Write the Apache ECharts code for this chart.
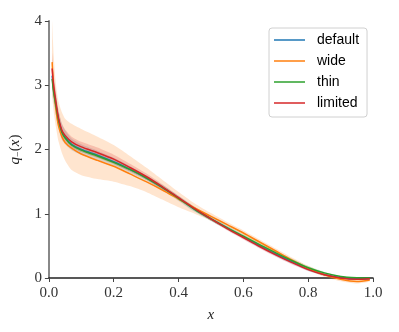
<!DOCTYPE html>
<html>
<head>
<meta charset="utf-8">
<script src="https://cdn.jsdelivr.net/npm/echarts@6/dist/echarts.min.js"></script>
<style>
  html, body { margin: 0; padding: 0; background: #fff; }
  #chart { width: 399px; height: 332px; }
</style>
</head>
<body>
<div id="chart"></div>
<script>
// x grid shared by every curve
var xs = [0.01, 0.0125, 0.015, 0.02, 0.025, 0.03, 0.04, 0.05, 0.07, 0.1, 0.15, 0.2, 0.25, 0.3, 0.35, 0.4, 0.45, 0.5, 0.55, 0.6, 0.65, 0.7, 0.75, 0.8, 0.85, 0.9, 0.95, 0.99];

// central curves
var defaultMid = [3.15, 3.02, 2.92, 2.76, 2.6, 2.46, 2.28, 2.19, 2.08, 2.0, 1.91, 1.81, 1.69, 1.56, 1.41, 1.24, 1.07, 0.92, 0.78, 0.64, 0.5, 0.37, 0.25, 0.14, 0.055, 0.005, -0.015, -0.01];
var wideMid = [3.36, 3.1, 2.92, 2.7, 2.5, 2.36, 2.2, 2.11, 2.02, 1.93, 1.83, 1.74, 1.62, 1.5, 1.37, 1.23, 1.09, 0.96, 0.83, 0.7, 0.56, 0.42, 0.28, 0.15, 0.05, -0.02, -0.055, -0.03];
var thinMid = [3.1, 2.98, 2.88, 2.73, 2.58, 2.45, 2.27, 2.18, 2.07, 1.99, 1.9, 1.8, 1.69, 1.56, 1.41, 1.24, 1.07, 0.92, 0.78, 0.65, 0.52, 0.39, 0.27, 0.16, 0.08, 0.025, 0.005, 0.0];
var limitedMid = [3.26, 3.1, 2.98, 2.8, 2.62, 2.48, 2.3, 2.22, 2.12, 2.04, 1.95, 1.85, 1.72, 1.58, 1.42, 1.25, 1.08, 0.92, 0.77, 0.63, 0.49, 0.36, 0.24, 0.13, 0.05, 0.0, -0.02, -0.01];

// uncertainty bands
var defaultLo = [2.9, 2.79, 2.72, 2.59, 2.44, 2.32, 2.15, 2.08, 1.99, 1.92, 1.84, 1.75, 1.64, 1.52, 1.37, 1.2, 1.03, 0.89, 0.75, 0.61, 0.47, 0.34, 0.22, 0.11, 0.035, -0.01, -0.025, -0.02];
var defaultHi = [3.4, 3.25, 3.12, 2.93, 2.76, 2.6, 2.41, 2.3, 2.17, 2.08, 1.98, 1.87, 1.74, 1.6, 1.45, 1.28, 1.11, 0.95, 0.81, 0.67, 0.53, 0.4, 0.28, 0.17, 0.075, 0.02, -0.005, 0.0];
var wideLo = [2.85, 2.7, 2.58, 2.4, 2.25, 2.12, 1.95, 1.83, 1.68, 1.6, 1.54, 1.5, 1.43, 1.34, 1.22, 1.1, 1.0, 0.89, 0.77, 0.65, 0.52, 0.38, 0.25, 0.12, 0.02, -0.05, -0.085, -0.055];
var wideHi = [4.0, 3.7, 3.45, 3.1, 2.88, 2.74, 2.58, 2.48, 2.4, 2.32, 2.2, 2.07, 1.9, 1.72, 1.53, 1.34, 1.16, 1.01, 0.87, 0.74, 0.6, 0.46, 0.32, 0.19, 0.08, 0.01, -0.03, -0.01];
var thinLo = [3.0, 2.92, 2.83, 2.68, 2.54, 2.41, 2.24, 2.15, 2.04, 1.96, 1.87, 1.77, 1.66, 1.53, 1.38, 1.21, 1.04, 0.89, 0.75, 0.62, 0.49, 0.36, 0.24, 0.135, 0.065, 0.015, 0.0, -0.005];
var thinHi = [3.2, 3.04, 2.93, 2.78, 2.62, 2.49, 2.3, 2.21, 2.1, 2.02, 1.93, 1.83, 1.72, 1.59, 1.44, 1.27, 1.1, 0.95, 0.81, 0.68, 0.55, 0.42, 0.3, 0.185, 0.095, 0.035, 0.01, 0.005];
var limitedLo = [3.02, 2.9, 2.81, 2.65, 2.49, 2.36, 2.2, 2.13, 2.04, 1.96, 1.87, 1.78, 1.66, 1.53, 1.38, 1.22, 1.05, 0.89, 0.74, 0.6, 0.46, 0.33, 0.21, 0.11, 0.035, -0.01, -0.03, -0.02];
var limitedHi = [3.5, 3.3, 3.15, 2.95, 2.75, 2.6, 2.4, 2.31, 2.2, 2.12, 2.03, 1.92, 1.78, 1.63, 1.46, 1.28, 1.1, 0.94, 0.79, 0.65, 0.51, 0.38, 0.26, 0.15, 0.065, 0.01, -0.01, 0.0];

var xTicks = [0, 0.2, 0.4, 0.6, 0.8, 1.0];
var yTicks = [0, 1, 2, 3, 4];

var curves = [
  { name: 'default', color: '#1f77b4', mid: defaultMid, lo: defaultLo, hi: defaultHi },
  { name: 'wide', color: '#ff7f0e', mid: wideMid, lo: wideLo, hi: wideHi },
  { name: 'thin', color: '#2ca02c', mid: thinMid, lo: thinLo, hi: thinHi },
  { name: 'limited', color: '#d62728', mid: limitedMid, lo: limitedLo, hi: limitedHi }
];

// one filled polygon per band, drawn when the first row is rendered
function bandRenderer(color) {
  return function (params, api) {
    if (params.dataIndexInside !== 0) return null;
    var n = xs.length, top = [], bot = [];
    for (var i = 0; i < n; i++) {
      top.push(api.coord([api.value(0, i), api.value(2, i)]));
      bot.push(api.coord([api.value(0, i), api.value(1, i)]));
    }
    return {
      type: 'polygon',
      shape: { points: top.concat(bot.reverse()), smooth: 0.2 },
      style: { fill: color, opacity: 0.2 }
    };
  };
}

var series = [];
curves.forEach(function (c) {
  series.push({
    name: c.name + '-band', type: 'custom', silent: true, z: 1, clip: false,
    data: xs.map(function (x, i) { return [x, c.lo[i], c.hi[i]]; }),
    encode: { x: 0, y: [1, 2] },
    renderItem: bandRenderer(c.color)
  });
});
curves.forEach(function (c) {
  series.push({
    name: c.name, type: 'line', symbol: 'none', smooth: 0.25, color: c.color, clip: false,
    data: xs.map(function (x, i) { return [x, c.mid[i]]; }),
    lineStyle: { width: 1.5, color: c.color }, z: 3
  });
});

var serif = 'Liberation Serif';
var chart = echarts.init(document.getElementById('chart'), null, { renderer: 'canvas' });
chart.setOption({
  animation: false,
  backgroundColor: '#fff',
  grid: { left: 48, right: 26, top: 21, bottom: 54, containLabel: false },
  legend: {
    data: curves.map(function (c) { return c.name; }),
    orient: 'vertical', left: 269, top: 28, icon: 'rect',
    padding: [5, 8, 7, 5], itemWidth: 31, itemHeight: 1.5, itemGap: 7,
    borderColor: '#d0d0d0', borderWidth: 1, borderRadius: 3,
    backgroundColor: 'rgba(255,255,255,0.8)',
    textStyle: { fontFamily: 'Liberation Sans', fontSize: 14, color: '#000', lineHeight: 14, padding: [0, 0, 0, 7] }
  },
  xAxis: {
    type: 'value', min: 0, max: 1, interval: 0.2,
    name: 'x', nameLocation: 'middle', nameGap: 30,
    nameTextStyle: { fontFamily: serif, fontStyle: 'italic', fontSize: 15, color: '#222' },
    axisLine: { onZero: false, lineStyle: { color: '#222', width: 1.5 } },
    axisTick: { length: 4, lineStyle: { color: '#444' } },
    axisLabel: {
      margin: 8, fontFamily: serif, fontSize: 15, color: '#333',
      formatter: function (v) { return xTicks.indexOf(+v.toFixed(1)) >= 0 ? v.toFixed(1) : ''; }
    },
    splitLine: { show: false }
  },
  yAxis: {
    type: 'value', min: 0, max: 4, interval: 1,
    name: '{i|q}{s|−}{r|(}{i|x}{r|)}', nameLocation: 'middle', nameGap: 24, nameRotate: 90,
    nameTextStyle: {
      rich: {
        i: { fontFamily: serif, fontStyle: 'italic', fontSize: 15, color: '#222' },
        r: { fontFamily: serif, fontSize: 15, color: '#222' },
        s: { fontFamily: serif, fontSize: 10, color: '#222', verticalAlign: 'bottom', padding: [6, 0, 0, 0] }
      }
    },
    axisLine: { show: true, onZero: false, lineStyle: { color: '#888', width: 2 } },
    axisTick: { show: true, length: 4, lineStyle: { color: '#444' } },
    axisLabel: {
      margin: 7, fontFamily: serif, fontSize: 15, color: '#333',
      formatter: function (v) { return yTicks.indexOf(v) >= 0 ? String(v) : ''; }
    },
    splitLine: { show: false }
  },
  series: series
});
</script>
</body>
</html>
